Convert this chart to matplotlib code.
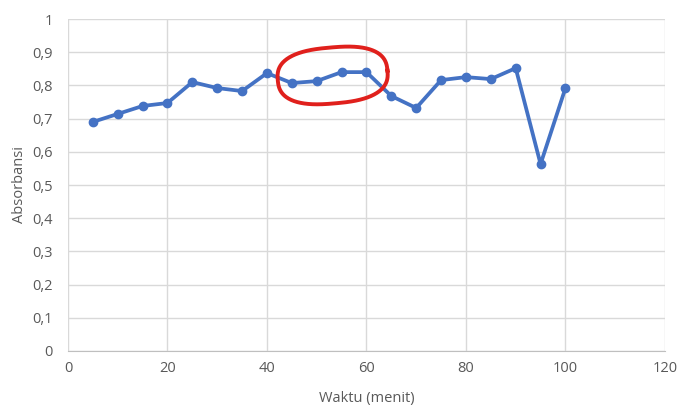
import numpy as np
import matplotlib.pyplot as plt
from matplotlib.ticker import FuncFormatter

# absorbance readings over time
waktu = [5, 10, 15, 20, 25, 30, 35, 40, 45, 50, 55, 60, 65, 70, 75, 80, 85, 90, 95, 100]
absorbansi = [0.690, 0.714, 0.738, 0.747, 0.810, 0.792, 0.783, 0.837, 0.807, 0.813,
              0.840, 0.840, 0.768, 0.732, 0.816, 0.825, 0.819, 0.852, 0.563, 0.792]

x_ticks = [0, 20, 40, 60, 80, 100, 120]
y_ticks = [0, 0.1, 0.2, 0.3, 0.4, 0.5, 0.6, 0.7, 0.8, 0.9, 1]

txt = '#595959'
plt.rcParams['font.family'] = ['Open Sans', 'DejaVu Sans']

fig = plt.figure(figsize=(6.79, 4.07), dpi=100)
ax = fig.add_axes([0.1001, 0.1376, 0.8792, 0.8157])

ax.plot(waktu, absorbansi, color='#4472c4', lw=2.7, marker='o', markersize=6,
        solid_capstyle='round', zorder=3)

ax.set_xlim(0, 120)
ax.set_ylim(0, 1)
ax.set_xticks(x_ticks)
ax.set_yticks(y_ticks)
ax.yaxis.set_major_formatter(FuncFormatter(lambda v, p: ('%g' % round(v, 1)).replace('.', ',')))
ax.grid(True, color='#d9d9d9', lw=1)
ax.set_axisbelow(True)
for s in ['top', 'right', 'left']:
    ax.spines[s].set_visible(False)
ax.spines['bottom'].set_color('#bfbfbf')
ax.tick_params(length=0, colors=txt, labelsize=10.5, pad=7)
ax.tick_params(axis='y', pad=11)

ax.set_xlabel('Waktu (menit)', color=txt, fontsize=10.5, labelpad=11)
ax.set_ylabel('Absorbansi', color=txt, fontsize=10.5, labelpad=4)

# hand-drawn red loop around the 45-60 minute plateau (slightly boxy)
t = np.linspace(0, 2 * np.pi, 300)
sx, sy = 4.97, 332.0  # px per data unit
a, b, rot, n = 55, 28, np.deg2rad(5), 2.6
cx = np.sign(np.cos(t)) * np.abs(np.cos(t)) ** (2 / n)
cy = np.sign(np.sin(t)) * np.abs(np.sin(t)) ** (2 / n)
ex = a * cx * np.cos(rot) - b * cy * np.sin(rot)
ey = a * cx * np.sin(rot) + b * cy * np.cos(rot)
ax.plot(53.2 + ex / sx, 0.830 + ey / sy, color='#e0201c', lw=2.8, zorder=4, clip_on=False)

fig.savefig('out.png', dpi=100)
